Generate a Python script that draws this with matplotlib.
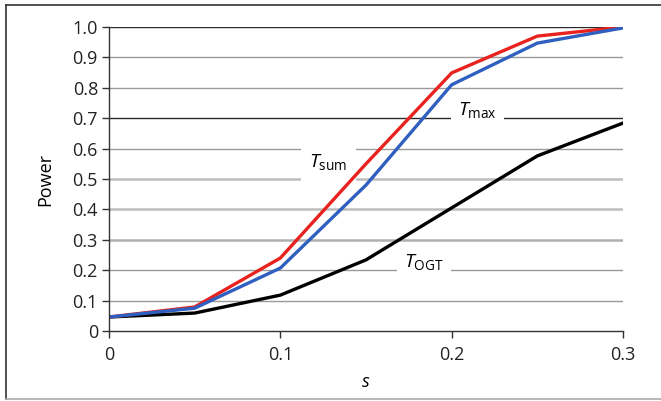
import numpy as np
import matplotlib.pyplot as plt
from matplotlib.lines import Line2D

# data
s = [0, 0.05, 0.1, 0.15, 0.2, 0.25, 0.3]
t_sum = [0.046, 0.079, 0.24, 0.55, 0.849, 0.97, 1.0]
t_max = [0.046, 0.075, 0.207, 0.48, 0.81, 0.947, 0.997]
t_ogt = [0.046, 0.059, 0.118, 0.234, 0.405, 0.576, 0.684]
yticks = [0, 0.1, 0.2, 0.3, 0.4, 0.5, 0.6, 0.7, 0.8, 0.9, 1.0]
ytick_labels = ['0', '0.1', '0.2', '0.3', '0.4', '0.5', '0.6', '0.7', '0.8', '0.9', '1.0']
xticks = [0, 0.1, 0.2, 0.3]
xtick_labels = ['0', '0.1', '0.2', '0.3']

plt.rcParams['font.family'] = ['Open Sans', 'DejaVu Sans']
plt.rcParams['mathtext.fontset'] = 'custom'
plt.rcParams['mathtext.rm'] = 'Open Sans'
plt.rcParams['mathtext.it'] = 'Open Sans:italic'

fig = plt.figure(figsize=(6.61, 4.01), dpi=100)
ax = fig.add_axes([109/661, 70/401, 514/661, 304/401])

# gridlines: some dark, some pale and thick, like the original
grid_style = {1.0: ('#2a2a2a', 1.0), 0.9: ('#9a9a9a', 1.0), 0.8: ('#9a9a9a', 1.0),
              0.7: ('#2a2a2a', 1.0), 0.6: ('#9a9a9a', 1.0), 0.5: ('#bdbdbd', 1.8),
              0.4: ('#bdbdbd', 1.8), 0.3: ('#b0b0b0', 1.8), 0.2: ('#9a9a9a', 1.0),
              0.1: ('#9a9a9a', 1.0)}
for v, (c, lw) in grid_style.items():
    ax.axhline(v, color=c, lw=lw, zorder=1)

ax.plot(s, t_ogt, color='#000000', lw=2.4, zorder=3)
ax.plot(s, t_sum, color='#e8231f', lw=2.4, zorder=3)
ax.plot(s, t_max, color='#2f5fbf', lw=2.4, zorder=3)

box = dict(facecolor='white', edgecolor='none', pad=5)
ax.text(0.128, 0.555, r'$T_{\mathrm{sum}}$', fontsize=14, ha='center', va='center',
        bbox=dict(facecolor='white', edgecolor='none', pad=6), zorder=2)
ax.text(0.215, 0.728, r'$T_{\mathrm{max}}$', fontsize=14, ha='center', va='center',
        bbox=box, zorder=2)
ax.text(0.184, 0.228, r'$T_{\mathrm{OGT}}$', fontsize=14, ha='center', va='center',
        bbox=box, zorder=2)

ax.set_xlim(0, 0.3)
ax.set_ylim(0, 1.0)
ax.set_xticks(xticks)
ax.set_xticklabels(xtick_labels)
ax.set_yticks(yticks)
ax.set_yticklabels(ytick_labels)
ax.tick_params(axis='both', labelsize=13, color='#333333', length=5, width=1, labelcolor='#222222')
ax.tick_params(axis='x', pad=6)
ax.tick_params(axis='y', pad=3)
for side in ['top', 'right']:
    ax.spines[side].set_visible(False)
for side in ['left', 'bottom']:
    ax.spines[side].set_color('#333333')
    ax.spines[side].set_linewidth(1)
    ax.spines[side].set_zorder(4)

ax.set_ylabel('Power', fontsize=13, labelpad=13)
ax.set_xlabel('s', fontsize=13, style='italic', labelpad=6)

# outer frame
fig.add_artist(Line2D([6/661, 6/661], [1 - 5/401, 1 - 399/401], transform=fig.transFigure, color='#333333', lw=1.2))
fig.add_artist(Line2D([6/661, 1], [1 - 5/401, 1 - 5/401], transform=fig.transFigure, color='#333333', lw=1.2))
fig.add_artist(Line2D([6/661, 1], [1 - 399/401, 1 - 399/401], transform=fig.transFigure, color='#aaaaaa', lw=1.2))

plt.savefig('out.png', dpi=100)
plt.close(fig)
